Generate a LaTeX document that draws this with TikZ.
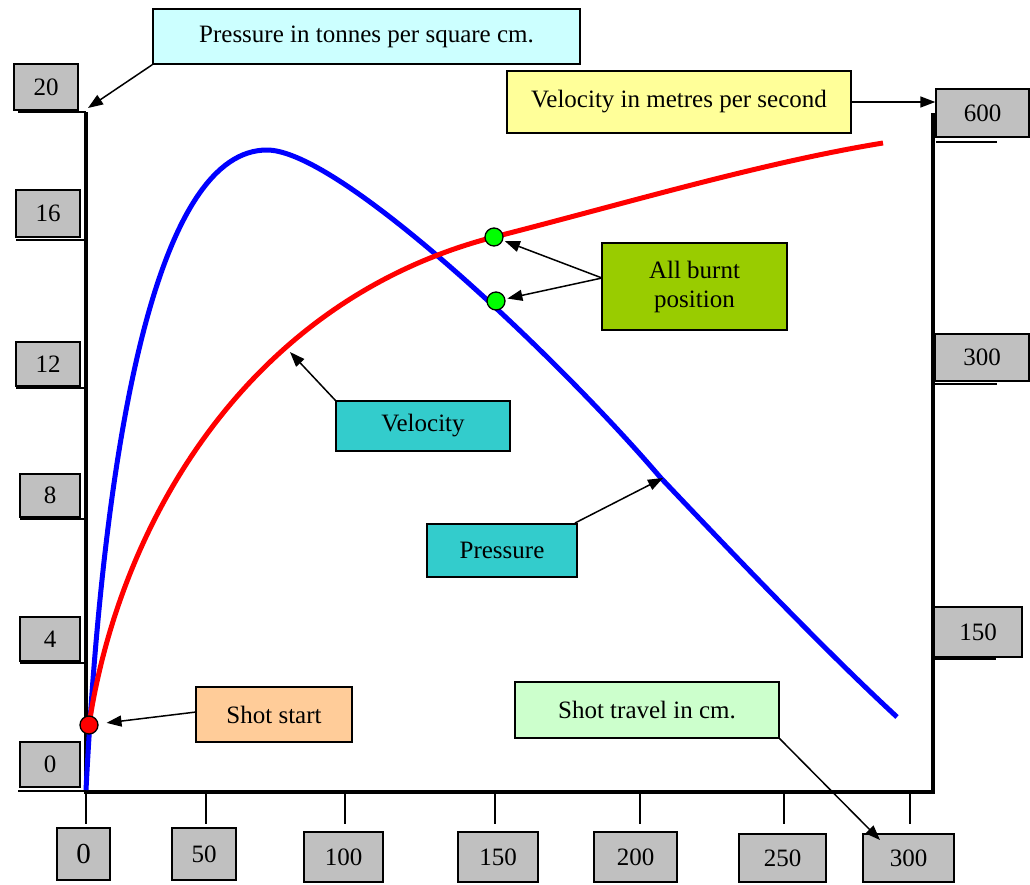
\documentclass[tikz,border=0pt]{standalone}
\usepackage{fontspec}
\setmainfont{Liberation Serif}
\usetikzlibrary{arrows.meta}
\definecolor{axgray}{HTML}{C0C0C0}
\definecolor{lcyan}{HTML}{CCFFFF}
\definecolor{lyellow}{HTML}{FFFF99}
\definecolor{olive}{HTML}{99CC00}
\definecolor{teal}{HTML}{33CCCC}
\definecolor{peach}{HTML}{FFCC99}
\definecolor{lgreen}{HTML}{CCFFCC}
\definecolor{dotgreen}{HTML}{00FF00}
\definecolor{pblue}{HTML}{0000FF}
\definecolor{vred}{HTML}{FF0000}
\begin{document}
\begin{tikzpicture}[x=1pt,y=-1pt,
  font=\fontsize{25}{29}\selectfont,
  box/.style={draw, line width=1.4pt, inner sep=0pt, align=center},
  gbox/.style={box, fill=axgray},
  axis/.style={line width=4pt},
  thin/.style={line width=1.4pt},
  arr/.style={-{Triangle[length=15pt,width=11pt]}, line width=1.5pt},
  dot/.style={circle, draw, line width=1.3pt, minimum size=18pt, inner sep=0pt},
  curve/.style={line width=5pt, line join=round}]
\useasboundingbox (0,0) rectangle (1030,884);

% axes
\coordinate (ao) at (86,792);
\coordinate (atl) at (86,112);
\coordinate (abr) at (933,792);
\coordinate (atr) at (933,113);
\draw[axis] (atl) -- (ao) -- (abr) -- (atr);

% curves
\coordinate (bstart) at (86,790);
\coordinate (bpeak) at (267,150);
\coordinate (bmid) at (660,477);
\coordinate (bend) at (897,717);
\draw[curve, pblue] (bstart) .. controls (105,420) and (160,150) .. (bpeak)
  .. controls (340,150) and (560,360) .. (bmid)
  .. controls (750,572) and (830,655) .. (bend);
\coordinate (rstart) at (89,725);
\coordinate (rmid) at (494,237);
\coordinate (rend) at (883,143);
\draw[curve, vred] (rstart) .. controls (120,520) and (250,300) .. (rmid)
  .. controls (620,205) and (760,163) .. (rend);

% dots
\node[dot, fill=vred] (sdot) at (rstart) {};
\node[dot, fill=dotgreen] (d1) at (rmid) {};
\node[dot, fill=dotgreen] (d2) at (496,301) {};

% left axis labels
\node[gbox, minimum width=64pt, minimum height=46pt] (l20) at (46,87) {20};
\node[gbox, minimum width=64pt, minimum height=47pt] (l16) at (48,213.5) {16};
\node[gbox, minimum width=64pt, minimum height=44pt] (l12) at (48,364) {12};
\node[gbox, minimum width=60pt, minimum height=43pt] (l8) at (50,495.5) {8};
\node[gbox, minimum width=60pt, minimum height=44pt] (l4) at (50,639) {4};
\node[gbox, minimum width=60pt, minimum height=45pt] (l0) at (50,764.5) {0};
\coordinate (u20) at (18,112);  \draw[thin] (u20) -- (u20 -| atl);
\coordinate (u16) at (16,240);  \draw[thin] (u16) -- (u16 -| atl);
\coordinate (u12) at (16,388);  \draw[thin] (u12) -- (u12 -| atl);
\coordinate (u8) at (20,519);   \draw[thin] (u8) -- (u8 -| atl);
\coordinate (u4) at (20,663);   \draw[thin] (u4) -- (u4 -| atl);
\coordinate (u0) at (18,791);   \draw[thin] (u0) -- (u0 -| atl);

% right axis labels
\node[gbox, minimum width=93pt, minimum height=48pt] (r600) at (982.5,113) {600};
\node[gbox, minimum width=94pt, minimum height=47pt] (r300) at (982,357.5) {300};
\node[gbox, minimum width=88pt, minimum height=50pt] (r150) at (978,632) {150};
\coordinate (ru600a) at (936,142); \coordinate (ru600b) at (997,142); \draw[thin] (ru600a) -- (ru600b);
\coordinate (ru300a) at (935,384); \coordinate (ru300b) at (997,384); \draw[thin] (ru300a) -- (ru300b);
\coordinate (ru150a) at (934,659); \coordinate (ru150b) at (996,659); \draw[thin] (ru150a) -- (ru150b);

% bottom axis labels and ticks
\node[gbox, minimum width=53pt, minimum height=52pt, font=\fontsize{29}{32}\selectfont] (b0) at (83.5,854) {0};
\node[gbox, minimum width=64pt, minimum height=52pt] (b50) at (204,854) {50};
\node[gbox, minimum width=79pt, minimum height=50pt] (b100) at (343.5,857) {100};
\node[gbox, minimum width=80pt, minimum height=50pt] (b150) at (498,857) {150};
\node[gbox, minimum width=83pt, minimum height=50pt] (b200) at (635.5,857) {200};
\node[gbox, minimum width=87pt, minimum height=48pt] (b250) at (782.5,858) {250};
\node[gbox, minimum width=91pt, minimum height=48pt] (b300) at (908.5,858) {300};
\foreach \n/\x in {t0/86, t50/206, t100/345, t150/495, t200/640, t250/784, t300/910} {
  \coordinate (\n a) at (\x,792);
  \coordinate (\n b) at (\x,824);
  \draw[thin] (\n a) -- (\n b);
}

% callouts
\node[box, fill=lcyan, minimum width=427pt, minimum height=55pt] (pt) at (366.5,36.5) {Pressure in tonnes per square cm.};
\node[box, fill=lyellow, minimum width=344pt, minimum height=62pt] (vm) at (679,102) {Velocity in metres per second};
\node[box, fill=olive, minimum width=185pt, minimum height=87pt] (ab) at (694.5,286.5) {All burnt\\position};
\node[box, fill=teal, minimum width=174pt, minimum height=50pt] (vel) at (423,426) {Velocity};
\node[box, fill=teal, minimum width=150pt, minimum height=53pt] (pr) at (502,550.5) {Pressure};
\node[box, fill=peach, minimum width=156pt, minimum height=55pt] (ss) at (274,714.5) {Shot start};
\node[box, fill=lgreen, minimum width=264pt, minimum height=56pt] (st) at (647,710) {Shot travel in cm.};

% connectors
\coordinate (ptip) at (88,108);
\draw[arr] (pt.south west) -- (ptip);
\draw[arr] (vm.east) -- (vm.east -| r600.west);
\coordinate (abw) at (602,278);
\draw[arr, shorten >=2pt] (abw) -- (d1);
\draw[arr, shorten >=2pt] (abw) -- (d2);
\coordinate (vtip) at (290,352);
\draw[arr] (vel.north west) -- (vtip);
\coordinate (pfrom) at (575,523);
\coordinate (ptip2) at (663,478);
\draw[arr] (pfrom) -- (ptip2);
\coordinate (ssfrom) at (196,712);
\draw[arr, shorten >=8pt] (ssfrom) -- (sdot);
\coordinate (sttip) at (880,840);
\draw[arr] (st.south east) -- (sttip);
\end{tikzpicture}
\end{document}
